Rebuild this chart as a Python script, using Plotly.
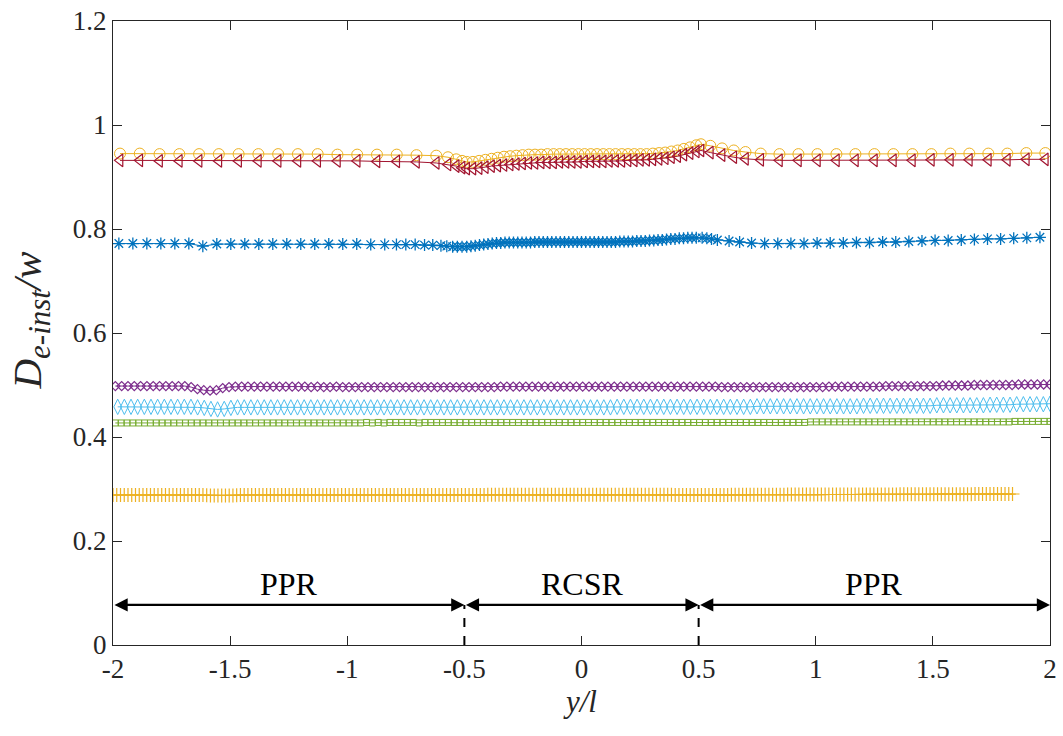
import numpy as np
import plotly.graph_objects as go

# ---------------------------------------------------------------
# Sample positions along y/l (mesh is refined inside the RCSR zone)
# ---------------------------------------------------------------
X_COARSE = np.concatenate([
    np.linspace(-1.97, -0.62, 17), [-0.57, -0.535, -0.51],
    np.linspace(-0.49, 0.49, 38), [0.51, 0.55, 0.60, 0.65, 0.70, 0.765],
    np.linspace(0.845, 1.98, 15)])

X_STAR = np.concatenate([
    np.linspace(-1.975, -0.84, 20),
    [-0.79, -0.75, -0.71, -0.67, -0.635, -0.60, -0.575, -0.55, -0.53, -0.51],
    np.linspace(-0.49, 0.49, 55),
    [0.515, 0.535, 0.555, 0.58, 0.63, 0.675],
    np.linspace(0.726, 1.957, 23)])

X_PURPLE = np.linspace(-1.99, 2.0, 149)
X_CYAN = np.linspace(-1.98, 2.0, 141)
X_GREEN = np.linspace(-1.99, 2.0, 161)
X_PLUS = np.linspace(-2.0, 1.84, 241)

# ---------------------------------------------------------------
# D_e-inst / w values
# ---------------------------------------------------------------
Y_CIRCLE = [
    0.945, 0.945, 0.944, 0.944, 0.944, 0.944, 0.944, 0.944, 0.944, 0.944,
    0.944, 0.943, 0.943, 0.943, 0.943, 0.942, 0.941,
    0.938, 0.934, 0.931,
    0.929, 0.929, 0.931, 0.933, 0.935, 0.937, 0.939, 0.940, 0.941, 0.942,
    0.943, 0.943, 0.943, 0.944, 0.944, 0.944, 0.944, 0.944, 0.944, 0.944,
    0.944, 0.944, 0.944, 0.944, 0.944, 0.944, 0.944, 0.944, 0.944, 0.944,
    0.945, 0.946, 0.947, 0.949, 0.951, 0.954, 0.957, 0.961,
    0.963, 0.960, 0.955, 0.951, 0.948, 0.945,
    0.944, 0.944, 0.944, 0.944, 0.944, 0.944, 0.944, 0.944, 0.944, 0.945,
    0.945, 0.945, 0.945, 0.946, 0.946]

Y_TRIANGLE = [
    0.932, 0.932, 0.931, 0.931, 0.931, 0.931, 0.931, 0.931, 0.931, 0.931,
    0.931, 0.931, 0.931, 0.930, 0.930, 0.929, 0.927,
    0.924, 0.921, 0.918,
    0.916, 0.916, 0.917, 0.919, 0.921, 0.922, 0.923, 0.924, 0.925, 0.926,
    0.927, 0.927, 0.928, 0.928, 0.928, 0.929, 0.929, 0.929, 0.929, 0.930,
    0.930, 0.930, 0.930, 0.931, 0.931, 0.931, 0.932, 0.932, 0.933, 0.933,
    0.934, 0.935, 0.936, 0.938, 0.940, 0.943, 0.946, 0.949,
    0.951, 0.947, 0.942, 0.938, 0.935, 0.933,
    0.932, 0.932, 0.932, 0.932, 0.932, 0.932, 0.932, 0.932, 0.933, 0.933,
    0.933, 0.933, 0.933, 0.934, 0.934]

Y_STAR = [
    0.772, 0.772, 0.772, 0.772, 0.772, 0.772, 0.767, 0.771, 0.771, 0.771,
    0.771, 0.771, 0.771, 0.771, 0.771, 0.771, 0.771, 0.771, 0.770, 0.770,
    0.770, 0.770, 0.770, 0.769, 0.769, 0.768, 0.767, 0.766, 0.766, 0.766,
    0.766, 0.767, 0.768, 0.769, 0.770, 0.771, 0.772, 0.773, 0.773, 0.774,
    0.774, 0.774, 0.774, 0.774, 0.774, 0.774, 0.775, 0.775, 0.775, 0.775,
    0.775, 0.775, 0.775, 0.775, 0.775, 0.775, 0.775, 0.775, 0.775, 0.775,
    0.775, 0.775, 0.775, 0.775, 0.775, 0.775, 0.776, 0.776, 0.776, 0.776,
    0.777, 0.777, 0.777, 0.778, 0.778, 0.779, 0.779, 0.780, 0.781, 0.781,
    0.782, 0.782, 0.783, 0.783, 0.783,
    0.783, 0.782, 0.781, 0.779, 0.777, 0.775,
    0.773, 0.772, 0.772, 0.772, 0.772, 0.773, 0.773, 0.773, 0.774, 0.774,
    0.775, 0.775, 0.776, 0.777, 0.778, 0.778, 0.779, 0.780, 0.781, 0.781,
    0.782, 0.783, 0.784]

Y_PURPLE = [
    0.498, 0.498, 0.498, 0.498, 0.498, 0.498, 0.498, 0.498, 0.498, 0.498,
    0.498, 0.498, 0.496, 0.492, 0.490, 0.489, 0.490, 0.494, 0.496, 0.497,
    0.497, 0.497, 0.497, 0.497, 0.497, 0.497, 0.497, 0.497, 0.497, 0.497,
    0.497, 0.496, 0.497, 0.496, 0.496, 0.497, 0.496, 0.496, 0.496, 0.496,
    0.496, 0.496, 0.496, 0.496, 0.496, 0.496, 0.496, 0.496, 0.496, 0.496,
    0.496, 0.496, 0.496, 0.496, 0.496, 0.496, 0.496, 0.496, 0.496, 0.496,
    0.496, 0.497, 0.497, 0.497, 0.497, 0.497, 0.497, 0.497, 0.497, 0.497,
    0.497, 0.497, 0.497, 0.497, 0.497, 0.497, 0.497, 0.497, 0.497, 0.497,
    0.497, 0.497, 0.497, 0.497, 0.497, 0.497, 0.497, 0.497, 0.497, 0.497,
    0.497, 0.497, 0.497, 0.497, 0.497, 0.497, 0.496, 0.496, 0.496, 0.496,
    0.496, 0.496, 0.496, 0.496, 0.496, 0.496, 0.496, 0.496, 0.496, 0.496,
    0.496, 0.496, 0.496, 0.497, 0.497, 0.497, 0.497, 0.497, 0.497, 0.497,
    0.497, 0.497, 0.498, 0.498, 0.498, 0.498, 0.498, 0.498, 0.498, 0.498,
    0.498, 0.499, 0.499, 0.499, 0.499, 0.499, 0.500, 0.500, 0.500, 0.500,
    0.500, 0.500, 0.500, 0.501, 0.501, 0.501, 0.501, 0.501, 0.501]

Y_CYAN = [
    0.458, 0.458, 0.458, 0.458, 0.458, 0.458, 0.458, 0.458, 0.458, 0.458,
    0.458, 0.458, 0.457, 0.456, 0.454, 0.453, 0.454, 0.456, 0.457, 0.457,
    0.457, 0.457, 0.457, 0.457, 0.457, 0.457, 0.457, 0.457, 0.457, 0.457,
    0.457, 0.457, 0.457, 0.457, 0.457, 0.457, 0.457, 0.457, 0.457, 0.457,
    0.457, 0.457, 0.457, 0.457, 0.457, 0.457, 0.457, 0.457, 0.457, 0.457,
    0.457, 0.457, 0.457, 0.457, 0.457, 0.457, 0.457, 0.457, 0.457, 0.457,
    0.457, 0.457, 0.457, 0.457, 0.457, 0.457, 0.457, 0.457, 0.457, 0.457,
    0.457, 0.457, 0.457, 0.457, 0.457, 0.458, 0.458, 0.458, 0.458, 0.458,
    0.458, 0.458, 0.458, 0.458, 0.458, 0.458, 0.458, 0.458, 0.458, 0.458,
    0.458, 0.458, 0.458, 0.458, 0.458, 0.458, 0.459, 0.459, 0.459, 0.459,
    0.459, 0.459, 0.459, 0.459, 0.459, 0.459, 0.459, 0.459, 0.459, 0.459,
    0.459, 0.459, 0.460, 0.460, 0.460, 0.460, 0.460, 0.460, 0.460, 0.460,
    0.460, 0.460, 0.460, 0.461, 0.461, 0.461, 0.461, 0.461, 0.461, 0.461,
    0.461, 0.462, 0.462, 0.462, 0.462, 0.463, 0.463, 0.463, 0.463, 0.463,
    0.464]

Y_GREEN = [
    0.427, 0.427, 0.427, 0.427, 0.427, 0.427, 0.427, 0.427, 0.427, 0.427,
    0.427, 0.427, 0.427, 0.427, 0.427, 0.427, 0.427, 0.427, 0.427, 0.427,
    0.427, 0.427, 0.427, 0.427, 0.427, 0.427, 0.427, 0.427, 0.427, 0.427,
    0.427, 0.427, 0.427, 0.427, 0.427, 0.427, 0.427, 0.427, 0.427, 0.427,
    0.427, 0.427, 0.427, 0.428, 0.427, 0.428, 0.427, 0.428, 0.428, 0.428,
    0.428, 0.428, 0.427, 0.428, 0.428, 0.428, 0.428, 0.428, 0.428, 0.428,
    0.428, 0.428, 0.428, 0.428, 0.428, 0.428, 0.428, 0.428, 0.428, 0.428,
    0.428, 0.428, 0.428, 0.428, 0.428, 0.428, 0.428, 0.428, 0.428, 0.428,
    0.428, 0.428, 0.428, 0.428, 0.428, 0.428, 0.428, 0.428, 0.428, 0.428,
    0.428, 0.428, 0.428, 0.428, 0.428, 0.428, 0.428, 0.428, 0.428, 0.428,
    0.428, 0.428, 0.428, 0.428, 0.428, 0.428, 0.428, 0.428, 0.428, 0.428,
    0.428, 0.428, 0.428, 0.428, 0.428, 0.428, 0.428, 0.428, 0.428, 0.429,
    0.429, 0.429, 0.429, 0.429, 0.429, 0.429, 0.429, 0.429, 0.429, 0.429,
    0.429, 0.429, 0.429, 0.429, 0.429, 0.429, 0.429, 0.429, 0.429, 0.429,
    0.429, 0.429, 0.429, 0.429, 0.429, 0.429, 0.429, 0.429, 0.429, 0.429,
    0.429, 0.429, 0.429, 0.429, 0.430, 0.430, 0.430, 0.430, 0.430, 0.430,
    0.430]

Y_PLUS = [
    0.2885, 0.2885, 0.2885, 0.2885, 0.2885, 0.2885, 0.2885, 0.2885, 0.2885, 0.2885,
    0.2885, 0.2885, 0.2885, 0.2885, 0.2885, 0.2885, 0.2885, 0.2885, 0.2885, 0.2885,
    0.2885, 0.2885, 0.2885, 0.2885, 0.2885, 0.2880, 0.2877, 0.2875, 0.2875, 0.2875,
    0.2875, 0.2875, 0.2877, 0.2880, 0.2883, 0.2885, 0.2885, 0.2885, 0.2885, 0.2885,
    0.2885, 0.2885, 0.2885, 0.2885, 0.2885, 0.2885, 0.2885, 0.2885, 0.2885, 0.2885,
    0.2885, 0.2885, 0.2885, 0.2885, 0.2885, 0.2885, 0.2885, 0.2885, 0.2885, 0.2885,
    0.2885, 0.2885, 0.2885, 0.2885, 0.2885, 0.2885, 0.2885, 0.2885, 0.2885, 0.2885,
    0.2885, 0.2885, 0.2885, 0.2885, 0.2885, 0.2885, 0.2885, 0.2885, 0.2885, 0.2885,
    0.2885, 0.2885, 0.2885, 0.2885, 0.2885, 0.2885, 0.2885, 0.2885, 0.2885, 0.2885,
    0.2887, 0.2887, 0.2887, 0.2887, 0.2887, 0.2887, 0.2887, 0.2887, 0.2887, 0.2887,
    0.2888, 0.2888, 0.2888, 0.2888, 0.2888, 0.2888, 0.2888, 0.2888, 0.2888, 0.2888,
    0.2888, 0.2888, 0.2888, 0.2888, 0.2888, 0.2888, 0.2888, 0.2888, 0.2888, 0.2888,
    0.2888, 0.2888, 0.2888, 0.2888, 0.2888, 0.2888, 0.2888, 0.2888, 0.2888, 0.2888,
    0.2888, 0.2888, 0.2888, 0.2888, 0.2888, 0.2888, 0.2888, 0.2888, 0.2888, 0.2888,
    0.2888, 0.2888, 0.2888, 0.2888, 0.2888, 0.2888, 0.2888, 0.2888, 0.2888, 0.2888,
    0.2886, 0.2886, 0.2886, 0.2886, 0.2886, 0.2886, 0.2886, 0.2886, 0.2886, 0.2886,
    0.2886, 0.2886, 0.2886, 0.2886, 0.2886, 0.2888, 0.2888, 0.2888, 0.2888, 0.2888,
    0.2890, 0.2890, 0.2890, 0.2890, 0.2890, 0.2890, 0.2890, 0.2890, 0.2890, 0.2890,
    0.2892, 0.2892, 0.2892, 0.2892, 0.2892, 0.2892, 0.2892, 0.2892, 0.2892, 0.2892,
    0.2894, 0.2894, 0.2894, 0.2894, 0.2894, 0.2894, 0.2894, 0.2894, 0.2894, 0.2894,
    0.2896, 0.2896, 0.2896, 0.2896, 0.2896, 0.2896, 0.2896, 0.2896, 0.2896, 0.2896,
    0.2898, 0.2898, 0.2898, 0.2898, 0.2898, 0.2898, 0.2898, 0.2898, 0.2898, 0.2898,
    0.2900, 0.2900, 0.2900, 0.2900, 0.2900, 0.2900, 0.2900, 0.2900, 0.2900, 0.2900,
    0.2902, 0.2902, 0.2902, 0.2902, 0.2902, 0.2902, 0.2902, 0.2902, 0.2902, 0.2902,
    0.2904]

# Zone boundaries and labels along y/l
ZONE_EDGES = [-2.0, -0.5, 0.5, 2.0]
ZONE_LABELS = ["PPR", "RCSR", "PPR"]
ZONE_ARROW_Y = 0.077
ZONE_TEXT_Y = 0.117

X_TICKS = [-2, -1.5, -1, -0.5, 0, 0.5, 1, 1.5, 2]
X_TICK_TEXT = ["-2", "-1.5", "-1", "-0.5", "0", "0.5", "1", "1.5", "2"]
Y_TICKS = [0, 0.2, 0.4, 0.6, 0.8, 1.0, 1.2]
Y_TICK_TEXT = ["0", "0.2", "0.4", "0.6", "0.8", "1", "1.2"]

FONT = "Liberation Serif, Times New Roman, Times, serif"
AXIS_COLOR = "#262626"

series = [
    (X_PLUS, Y_PLUS, "#EDB120", "cross-thin-open", 10, 1.2),
    (X_GREEN, Y_GREEN, "#77AC30", "square-open", 6, 1.0),
    (X_CYAN, Y_CYAN, "#4DBEEE", "diamond-tall-open", 11, 1.0),
    (X_PURPLE, Y_PURPLE, "#7E2F8E", "diamond-open", 7, 1.2),
    (X_STAR, Y_STAR, "#0072BD", "asterisk-open", 10, 1.3),
    (X_COARSE, Y_CIRCLE, "#EDB120", "circle-open", 11, 1.0),
    (X_COARSE, Y_TRIANGLE, "#A2142F", "triangle-left-open", 11, 1.2),
]

fig = go.Figure()
for xs, ys, color, symbol, size, lw in series:
    fig.add_trace(go.Scatter(
        x=list(xs), y=ys, mode="lines+markers",
        line=dict(color=color, width=1),
        marker=dict(symbol=symbol, size=size, color=color,
                    line=dict(color=color, width=lw)),
        showlegend=False, hoverinfo="skip"))

# Double-headed arrows marking each zone, with labels above
for (x0, x1), label in zip(zip(ZONE_EDGES[:-1], ZONE_EDGES[1:]), ZONE_LABELS):
    fig.add_annotation(
        x=x1, y=ZONE_ARROW_Y, ax=x0, ay=ZONE_ARROW_Y,
        xref="x", yref="y", axref="x", ayref="y",
        text="", showarrow=True, arrowside="end+start",
        arrowhead=2, arrowsize=1.2, arrowwidth=2.2, arrowcolor="black",
        standoff=0, startstandoff=0)
    fig.add_annotation(
        x=(x0 + x1) / 2, y=ZONE_TEXT_Y, xref="x", yref="y",
        text=label, showarrow=False,
        font=dict(family=FONT, size=32, color="black"))

# Dashed separators between zones
for xb in ZONE_EDGES[1:-1]:
    fig.add_shape(type="line", x0=xb, x1=xb, y0=0, y1=ZONE_ARROW_Y,
                  xref="x", yref="y",
                  line=dict(color="black", width=2, dash="dash"))

# Vertical axis label
fig.add_annotation(
    x=-0.0875, y=0.52, xref="paper", yref="paper",
    xanchor="center", yanchor="middle", textangle=-90, showarrow=False,
    text=("<i>D</i><sub><span style=\"font-size:31px\"><i>e-inst</i></span></sub>"
          "<i>/w</i>"),
    font=dict(family=FONT, size=41, color=AXIS_COLOR))

axis_common = dict(
    showline=True, linecolor=AXIS_COLOR, linewidth=1, mirror="allticks",
    ticks="inside", ticklen=9, tickcolor=AXIS_COLOR, tickwidth=1,
    showgrid=False, zeroline=False,
    tickfont=dict(family=FONT, size=27, color=AXIS_COLOR))

fig.update_xaxes(
    range=[-2, 2], tickmode="array", tickvals=X_TICKS, ticktext=X_TICK_TEXT,
    title=dict(text="<i>y/l</i>", standoff=6,
               font=dict(family=FONT, size=31, color=AXIS_COLOR)),
    **axis_common)
fig.update_yaxes(
    range=[0, 1.2], tickmode="array", tickvals=Y_TICKS, ticktext=Y_TICK_TEXT,
    **axis_common)

fig.update_layout(
    width=1063, height=736,
    margin=dict(l=113, r=13, t=21, b=91, autoexpand=False),
    paper_bgcolor="white", plot_bgcolor="white",
    showlegend=False)

fig.write_html("out.html")
